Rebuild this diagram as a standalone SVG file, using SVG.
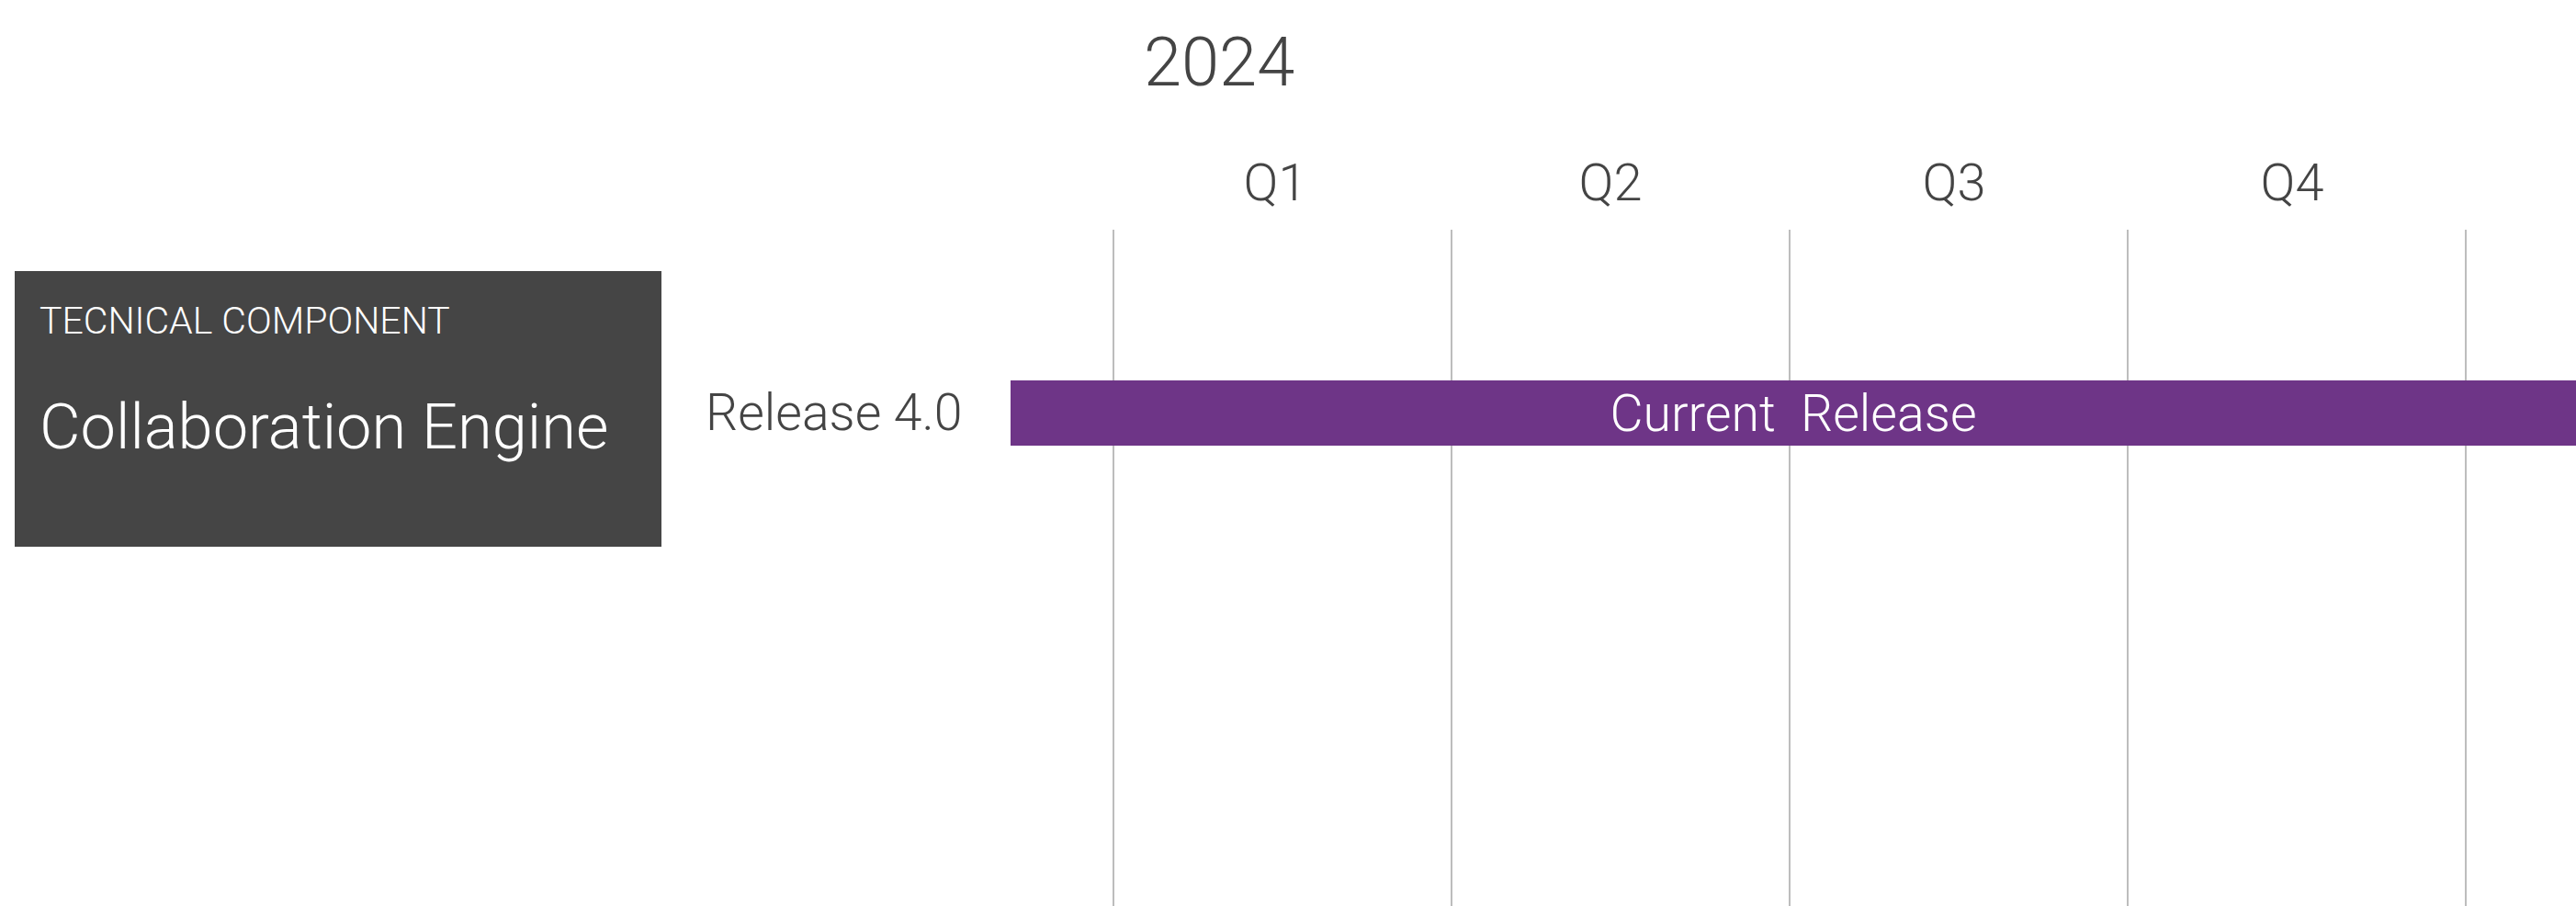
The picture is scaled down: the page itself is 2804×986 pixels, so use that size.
<svg xmlns="http://www.w3.org/2000/svg" width="2804" height="986" viewBox="0 0 2804 986">
<style>
.t{font-family:Roboto,"Liberation Sans",sans-serif;font-weight:300;fill:#444}
.w{fill:#fff}
.grid line{stroke:#bdbdbd;stroke-width:2}
</style>
<rect width="2804" height="986" fill="#fff"/>
<g id="header">
<text class="t" x="1245" y="93" font-size="74" font-weight="400">2024</text>
<text class="t" x="1388" y="218" font-size="56" text-anchor="middle">Q1</text>
<text class="t" x="1753" y="218" font-size="56" text-anchor="middle">Q2</text>
<text class="t" x="2127" y="218" font-size="56" text-anchor="middle">Q3</text>
<text class="t" x="2495" y="218" font-size="56" text-anchor="middle">Q4</text>
</g>
<g id="grid" class="grid">
<line x1="1212" y1="250" x2="1212" y2="986"/>
<line x1="1580" y1="250" x2="1580" y2="986"/>
<line x1="1948" y1="250" x2="1948" y2="986"/>
<line x1="2316" y1="250" x2="2316" y2="986"/>
<line x1="2684" y1="250" x2="2684" y2="986"/>
</g>
<g id="component">
<rect x="16" y="295" width="704" height="300" fill="#454545"/>
<text class="t w" x="43" y="363" font-size="41">TECNICAL COMPONENT</text>
<text class="t w" x="43" y="488" font-size="68.6">Collaboration Engine</text>
</g>
<g id="release-label">
<text class="t" x="768" y="468" font-size="55.4">Release 4.0</text>
</g>
<g id="current-release">
<rect x="1100" y="414" width="1704" height="71" fill="#6e3587"/>
<text class="t w" x="1952" y="469" font-size="55.5" text-anchor="middle" style="white-space:pre">Current  Release</text>
</g>
</svg>
